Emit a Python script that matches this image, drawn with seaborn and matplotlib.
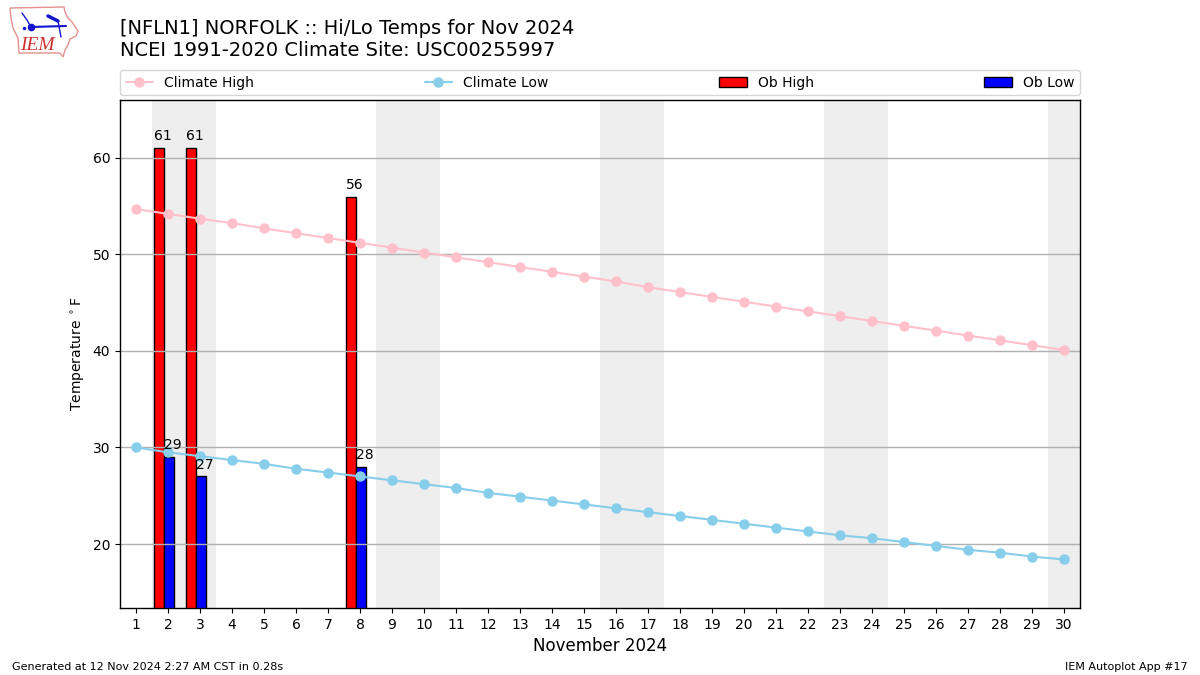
import matplotlib
matplotlib.use("Agg")
import matplotlib.pyplot as plt
from matplotlib.patches import Polygon
from matplotlib.lines import Line2D
import pandas as pd
import seaborn as sns

days = list(range(1, 31))
climate_high = [54.7, 54.2, 53.7, 53.25, 52.7, 52.2, 51.7, 51.2, 50.7, 50.2,
                49.7, 49.2, 48.7, 48.2, 47.7, 47.2, 46.6, 46.1, 45.6, 45.1,
                44.6, 44.1, 43.6, 43.1, 42.6, 42.1, 41.6, 41.1, 40.6, 40.1]
climate_low = [30.0, 29.5, 29.1, 28.7, 28.3, 27.8, 27.4, 27.0, 26.6, 26.2,
               25.8, 25.3, 24.9, 24.5, 24.1, 23.7, 23.3, 22.9, 22.5, 22.1,
               21.7, 21.3, 20.9, 20.6, 20.2, 19.8, 19.4, 19.1, 18.7, 18.4]
ob_days = [2, 3, 8]
ob_high = [61, 61, 56]
ob_low = [29, 27, 28]
weekend_days = [2, 3, 9, 10, 16, 17, 23, 24, 30]
y_ticks = [20, 30, 40, 50, 60]

sns.set_style("white")
plt.rcParams["font.family"] = ["DejaVu Sans"]
plt.rcParams["text.color"] = "black"
plt.rcParams["xtick.bottom"] = True
plt.rcParams["ytick.left"] = True

fig = plt.figure(figsize=(12, 6.75), dpi=100)
ax = fig.add_axes([0.1, 67 / 675, 0.8, 508 / 675])

for d in weekend_days:
    ax.axvspan(d - 0.5, d + 0.5, color="#eeeeee", lw=0, zorder=0)

OFFSET = 0.13
bars = pd.DataFrame({
    "pos": [d - OFFSET for d in ob_days] * 2,
    "value": ob_high + ob_low,
    "kind": ["Ob High"] * len(ob_days) + ["Ob Low"] * len(ob_days),
})
sns.barplot(data=bars, x="pos", y="value", hue="kind",
            hue_order=["Ob High", "Ob Low"],
            palette={"Ob High": "red", "Ob Low": "blue"},
            native_scale=True, width=0.62, gap=0, saturation=1,
            errorbar=None, edgecolor="black", linewidth=1, legend=False, ax=ax)

sns.lineplot(x=days, y=climate_high, color="pink", marker="o", markersize=6.5,
             markeredgecolor="pink", markeredgewidth=1, linewidth=1.5, ax=ax, zorder=3)
sns.lineplot(x=days, y=climate_low, color="skyblue", marker="o", markersize=6.5,
             markeredgecolor="skyblue", markeredgewidth=1, linewidth=1.5, ax=ax, zorder=3)

for d, v in zip(ob_days, ob_high):
    ax.annotate(str(v), (d - 0.16, v), xytext=(0, 3.5), textcoords="offset points",
                ha="center", va="bottom", fontsize=10, zorder=5)
for d, v in zip(ob_days, ob_low):
    ax.annotate(str(v), (d + 0.15, v), xytext=(0, 3.5), textcoords="offset points",
                ha="center", va="bottom", fontsize=10, zorder=5)

ax.set_xlim(0.5, 30.5)
ax.set_ylim(13.37, 66)
ax.set_xticks(days)
ax.set_xticklabels([str(d) for d in days])
ax.set_yticks(y_ticks)
ax.set_axisbelow("line")
ax.grid(axis="y", color="#b0b0b0", linewidth=1)
ax.grid(axis="x", visible=False)
for s in ax.spines.values():
    s.set_visible(True)
    s.set_color("black")
    s.set_linewidth(1)
ax.tick_params(axis="both", labelsize=10, length=3.5, width=0.8, color="black", labelcolor="black")
ax.set_xlabel("November 2024", fontsize=12, color="black")
ax.set_ylabel(r"Temperature $^\circ$F", fontsize=10, color="black")

handles = [
    Line2D([], [], color="pink", marker="o", markersize=6.5, linewidth=1.5),
    Line2D([], [], color="skyblue", marker="o", markersize=6.5, linewidth=1.5),
    plt.Rectangle((0, 0), 1, 1, fc="red", ec="black", lw=1),
    plt.Rectangle((0, 0), 1, 1, fc="blue", ec="black", lw=1),
]
labels = ["Climate High", "Climate Low", "Ob High", "Ob Low"]
ax.legend(handles, labels, ncol=4, mode="expand", loc="lower left",
          bbox_to_anchor=(0, 1.0096, 1, 0.05), borderaxespad=0, fontsize=10,
          frameon=True, edgecolor="#cccccc", fancybox=True)

fig.text(0.1, 1 - 29 / 675, "[NFLN1] NORFOLK :: Hi/Lo Temps for Nov 2024", fontsize=14, va="center", color="black")
fig.text(0.1, 1 - 50 / 675, "NCEI 1991-2020 Climate Site: USC00255997", fontsize=14, va="center", color="black")
fig.text(0.01, 1 - 666.5 / 675, "Generated at 12 Nov 2024 2:27 AM CST in 0.28s", fontsize=8, va="center", color="black")
fig.text(0.99, 1 - 666.5 / 675, "IEM Autoplot App #17", fontsize=8, va="center", ha="right", color="black")

# IEM logo (decorative)
def P(px, py):
    return (px / 1200, 1 - py / 675)

def logo_line(pts, **kw):
    xs = [P(*q)[0] for q in pts]
    ys = [P(*q)[1] for q in pts]
    fig.add_artist(Line2D(xs, ys, transform=fig.transFigure, **kw))

outline = [(10, 8), (64, 7), (65, 12), (68, 18), (72, 22), (78, 31), (76, 36), (70, 39), (68, 45),
           (65, 50), (63, 57), (60, 53), (19, 53), (18, 38), (13, 28), (11, 18)]
fig.add_artist(Polygon([P(*q) for q in outline], closed=True, fill=False,
                       edgecolor="#e59090", lw=1, transform=fig.transFigure))
blue = "#1515d0"
logo_line([(31, 27), (66, 26)], color=blue, lw=1.5)
logo_line([(31, 27)], color=blue, marker="o", markersize=4.5)
logo_line([(22, 13), (27, 20), (31, 27)], color=blue, lw=1)
logo_line([(48, 16), (58, 21)], color=blue, lw=2.5)
logo_line([(58, 21), (61, 37)], color=blue, lw=1)
logo_line([(24, 28)], color=blue, marker=".", markersize=3)
fig.text(*P(20.5, 45.5), "IEM", fontsize=14, family="Liberation Serif", style="italic", color="#d03030", va="center")

fig.savefig("out.png", dpi=100)
